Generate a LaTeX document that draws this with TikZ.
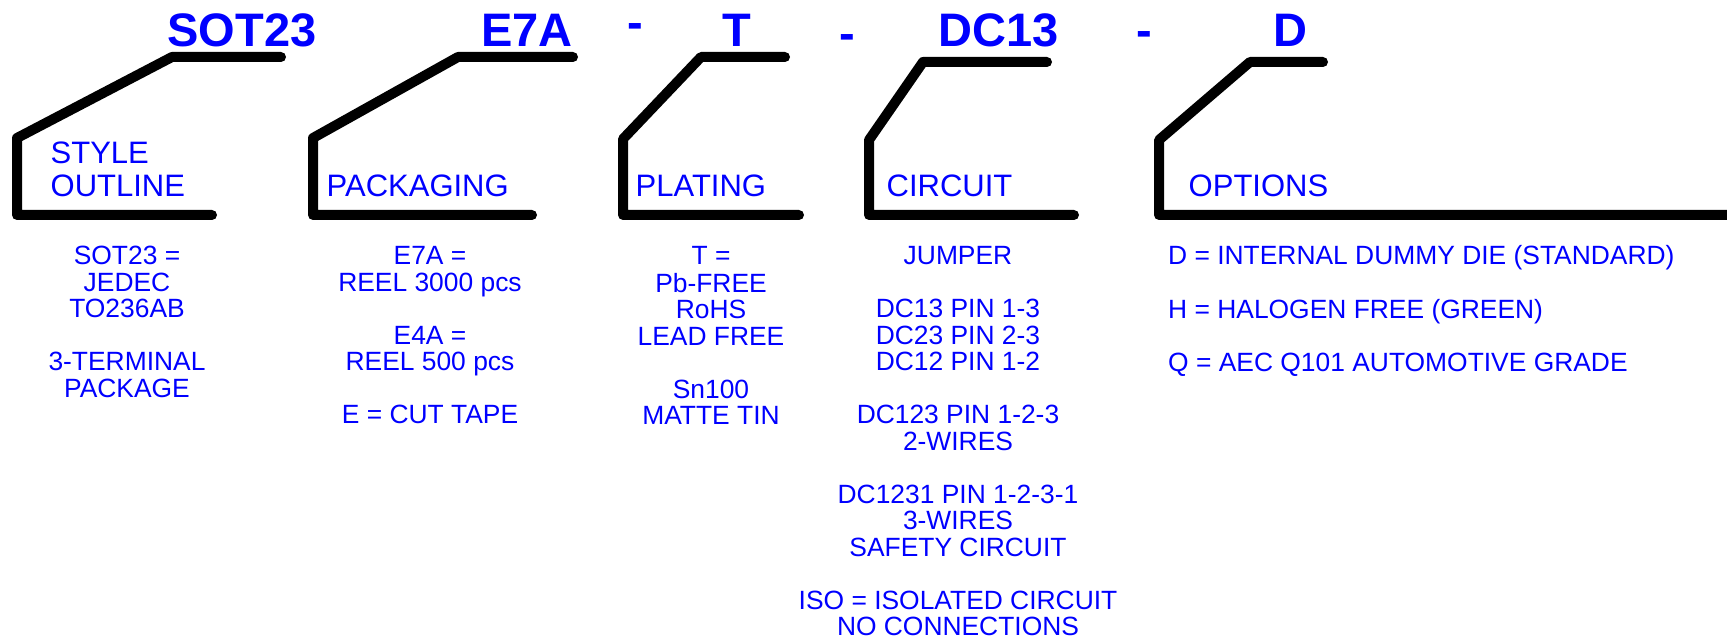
\documentclass[tikz,border=0pt]{standalone}
\usepackage{fontspec}
\setmainfont{Liberation Sans}
\begin{document}
\begin{tikzpicture}[x=1pt,y=-1pt,
  bracket/.style={line width=10pt,line cap=round,line join=round},
  code/.style={text=blue,font=\fontsize{47}{47}\selectfont\bfseries,inner sep=0pt,anchor=base},
  field/.style={text=blue,font=\fontsize{31}{33}\selectfont,inner sep=0pt,anchor=base west},
  desc/.style={text=blue,font=\fontsize{26.4}{26.5}\selectfont,inner sep=0pt,anchor=base},
  descl/.style={desc,anchor=base west},
]
\useasboundingbox (0,0) rectangle (1727,639);
\clip (0,0) rectangle (1727,639);

% brackets
\draw[bracket] (281,57) -- (172,57) -- (17,138) -- (17,215) -- (212,215);
\draw[bracket] (573,57) -- (458,57) -- (313,138) -- (313,215) -- (532,215);
\draw[bracket] (785,57) -- (701,57) -- (623,139) -- (623,215) -- (799,215);
\draw[bracket] (1047,62) -- (923,62) -- (869,140) -- (869,215) -- (1074,215);
\draw[bracket] (1323,62) -- (1250,62) -- (1159,140) -- (1159,215) -- (1760,215);

% part number
\node[code] (c1) at (242,47) {SOT23};
\node[code] (c2) at (527,47) {E7A};
\node[code] (d1) at (635,39) {-};
\node[code] (c3) at (737,47) {T};
\node[code] (d2) at (847,50) {-};
\node[code] (c4) at (999,47) {DC13};
\node[code] (d3) at (1144,47) {-};
\node[code] (c5) at (1290,47) {D};

% field labels
\node[field] (f1a) at (50.5,164) {STYLE};
\node[field] (f1b) at (50.5,197) {OUTLINE};
\node[field] (f2) at (326.5,197) {PACKAGING};
\node[field] (f3) at (635.5,197) {PLATING};
\node[field] (f4) at (886.5,197) {CIRCUIT};
\node[field] (f5) at (1188.5,197) {OPTIONS};

% descriptions
\node[desc] (t1) at (127,265) {\begin{tabular}[t]{@{}c@{}}SOT23 =\\JEDEC\\TO236AB\\ \\3-TERMINAL\\PACKAGE\end{tabular}};
\node[desc] (t2) at (430,265) {\begin{tabular}[t]{@{}c@{}}E7A =\\REEL 3000 pcs\\ \\E4A =\\REEL 500 pcs\\ \\E = CUT TAPE\end{tabular}};
\node[desc] (t3) at (711,265) {\begin{tabular}[t]{@{}c@{}}T =\\Pb-FREE\\RoHS\\LEAD FREE\\ \\Sn100\\MATTE TIN\end{tabular}};
\node[desc] (t4) at (958,265) {\begin{tabular}[t]{@{}c@{}}JUMPER\\ \\DC13 PIN 1-3\\DC23 PIN 2-3\\DC12 PIN 1-2\\ \\DC123 PIN 1-2-3\\2-WIRES\\ \\DC1231 PIN 1-2-3-1\\3-WIRES\\SAFETY CIRCUIT\\ \\ISO = ISOLATED CIRCUIT\\NO CONNECTIONS\end{tabular}};
\node[descl] (t5) at (1168,265) {\begin{tabular}[t]{@{}l@{}}D = INTERNAL DUMMY DIE (STANDARD)\\ \\H = HALOGEN FREE (GREEN)\\ \\Q = AEC Q101 AUTOMOTIVE GRADE\end{tabular}};
\end{tikzpicture}
\end{document}
